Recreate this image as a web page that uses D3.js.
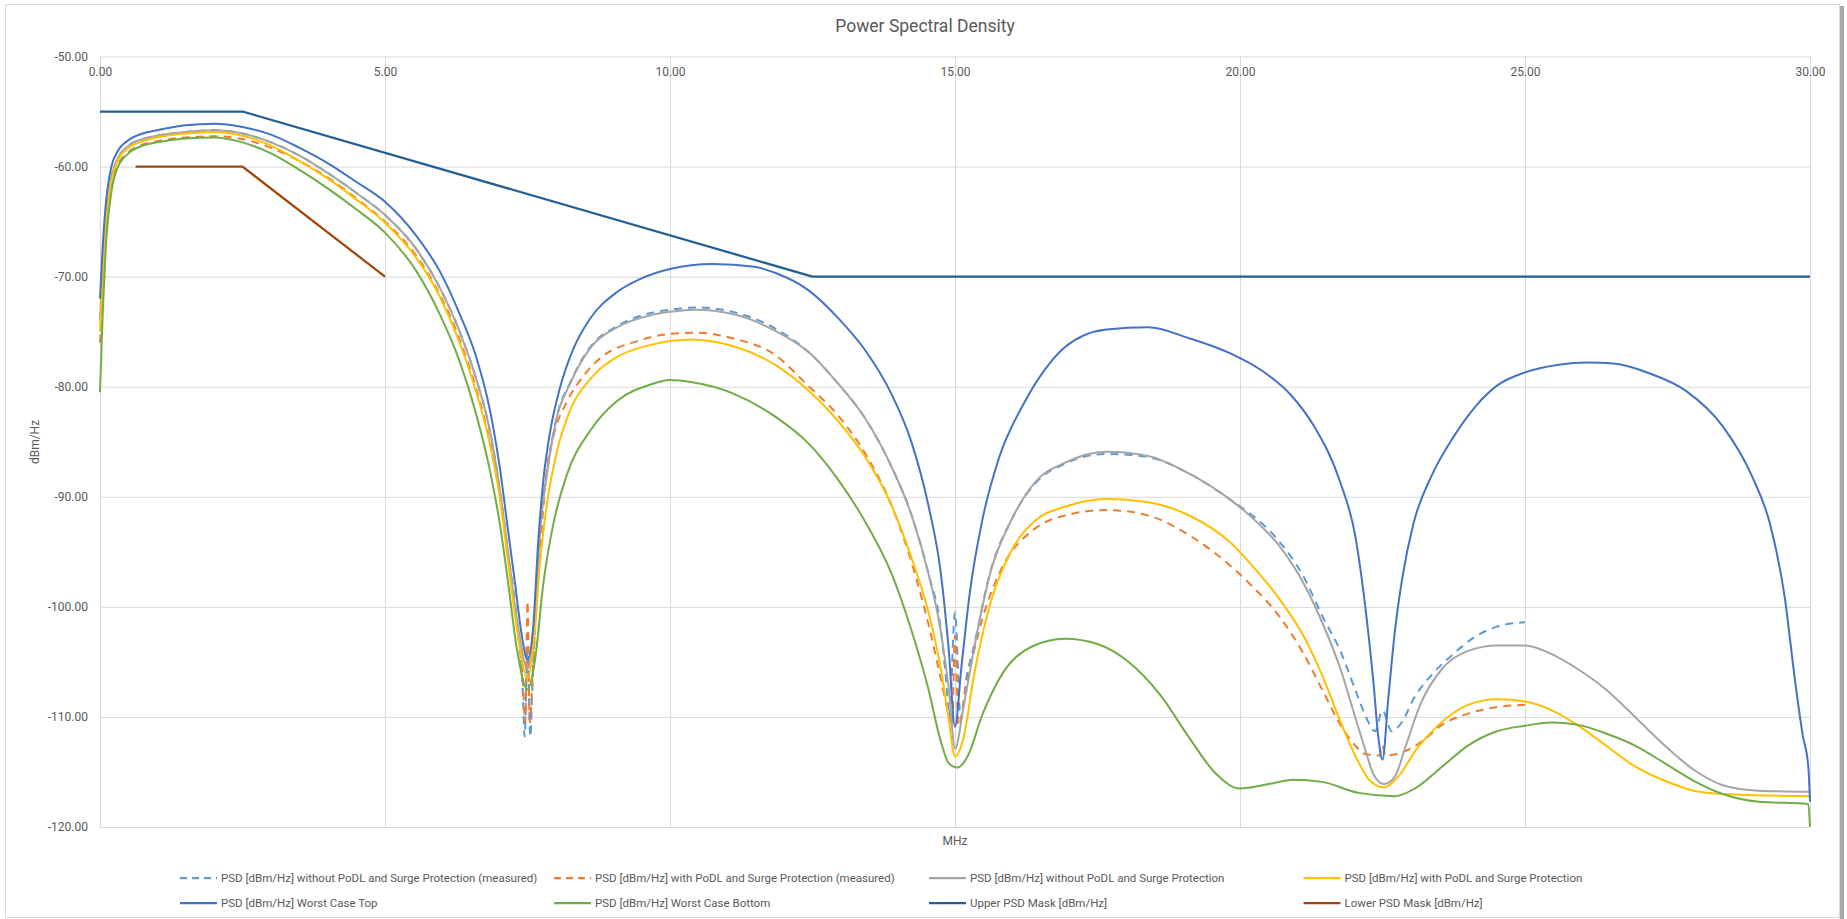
<!DOCTYPE html>
<html>
<head>
<meta charset="utf-8">
<script src="https://cdn.jsdelivr.net/npm/d3@7"></script>
<style>
body { margin: 0; background: #fff; }
svg { display: block; }
text { font-family: Roboto, "Noto Sans", sans-serif; fill: #595959; }
</style>
</head>
<body>
<svg id="chart"></svg>
<script>
// values: [MHz, dBm/Hz]
var xTicks = [0, 5, 10, 15, 20, 25, 30];
var yTicks = [-50, -60, -70, -80, -90, -100, -110, -120];

var psdNoPodlMeasured = [
	[0,-74],[0.05,-69],[0.1,-65],[0.2,-61],[0.3,-59.4],[0.5,-58.1],[0.75,-57.5],[1.0,-57.2],[1.5,-56.85],[2.0,-56.7],
	[2.5,-57.0],[3.0,-57.8],[3.5,-59.0],[4.0,-60.6],[4.5,-62.4],[5.0,-64.4],[5.55,-67.5],[5.96,-71.0],[6.31,-75.0],
	[6.6,-79.3],[6.84,-84.0],[7.01,-89.2],[7.16,-95.1],[7.31,-101.0],[7.42,-108],[7.45,-111.8],[7.5,-104],[7.55,-111.8],
	[7.58,-108],[7.72,-93.0],[7.84,-87.8],[8.01,-82.8],[8.25,-79.6],[8.6,-76.4],[9.07,-74.5],[9.66,-73.3],[10.0,-73.0],
	[10.45,-72.8],[11.1,-73.2],[11.84,-74.7],[12.42,-76.8],[12.93,-79.6],[13.44,-83.0],[13.88,-87.2],[14.24,-91.7],
	[14.53,-96.9],[14.75,-102],[14.85,-107],[14.9,-110],[15.0,-100.5],[15.1,-110.2],[15.2,-106.5],[15.33,-103.6],
	[15.62,-96.8],[15.99,-92.1],[16.42,-88.7],[16.93,-87.0],[17.66,-86.1],[18.39,-86.4],[19.11,-87.9],[19.84,-90.3],
	[20.17,-91.5],[20.68,-94.0],[21.12,-97.3],[21.44,-100.8],[21.76,-104.0],[22.02,-107.5],[22.21,-110.0],[22.37,-111.3],
	[22.5,-109.4],[22.66,-111.3],[22.85,-110.4],[23.04,-108.4],[23.36,-106.2],[23.74,-104.3],[24.13,-102.7],[24.51,-101.8],
	[25.0,-101.4]
];
var psdPodlMeasured = [
	[0,-76],[0.05,-70.5],[0.1,-66],[0.2,-61.7],[0.3,-60.0],[0.5,-58.7],[0.75,-58.0],[1.0,-57.7],[1.5,-57.35],[2.0,-57.25],
	[2.5,-57.5],[3.0,-58.3],[3.5,-59.5],[4.0,-61.0],[4.5,-62.9],[5.0,-65.0],[5.55,-68.1],[5.96,-71.6],[6.31,-75.7],
	[6.6,-80.2],[6.84,-85.0],[7.01,-89.7],[7.16,-95.6],[7.31,-101.5],[7.42,-107],[7.46,-110.5],[7.5,-99.5],[7.54,-110.5],
	[7.6,-105],[7.72,-95.0],[7.84,-87.5],[7.96,-84.4],[8.2,-81.3],[8.5,-78.9],[8.8,-77.3],[9.4,-75.9],[10.0,-75.2],
	[10.5,-75.1],[11.1,-75.6],[11.84,-77.1],[12.42,-79.9],[12.93,-82.5],[13.44,-86.2],[13.88,-90.7],[14.24,-96.0],
	[14.53,-101.5],[14.75,-106.5],[14.89,-109.8],[14.95,-110.8],[15.0,-102.6],[15.06,-110.8],[15.19,-107.4],[15.48,-101.1],
	[15.84,-96.3],[16.35,-93.1],[16.93,-91.7],[17.66,-91.2],[18.39,-91.7],[19.11,-93.5],[19.84,-96.3],[20.17,-97.9],
	[20.68,-100.8],[21.12,-104.3],[21.44,-107.5],[21.76,-110.7],[22.02,-112.6],[22.21,-113.4],[22.45,-113.5],[22.5,-112.6],
	[22.55,-113.5],[22.85,-113.2],[23.17,-112.3],[23.55,-110.7],[24.0,-109.7],[24.51,-109.1],[25.0,-108.9]
];
var psdNoPodl = [
	[0,-74],[0.05,-69],[0.1,-65],[0.2,-61],[0.3,-59.4],[0.5,-58.1],[0.75,-57.5],[1.0,-57.2],[1.5,-56.85],[2.0,-56.7],
	[2.5,-57.0],[3.0,-57.8],[3.5,-59.0],[4.0,-60.6],[4.5,-62.4],[5.0,-64.4],[5.55,-67.5],[5.96,-71.0],[6.31,-75.0],
	[6.6,-79.3],[6.84,-84.0],[7.01,-89.2],[7.16,-95.1],[7.31,-101.0],[7.5,-105.6],[7.6,-102.6],[7.72,-93.1],[7.84,-88.0],
	[8.01,-82.9],[8.25,-79.7],[8.6,-76.5],[9.07,-74.6],[9.66,-73.5],[10.0,-73.2],[10.45,-73.0],[11.1,-73.4],[11.84,-74.9],
	[12.42,-76.8],[12.93,-79.6],[13.44,-83.0],[13.88,-87.2],[14.24,-91.7],[14.53,-96.9],[14.75,-102.2],[14.89,-107.4],
	[15.0,-112.9],[15.15,-109.1],[15.33,-103.9],[15.62,-96.9],[15.99,-92.1],[16.42,-88.6],[16.93,-86.9],[17.66,-85.9],
	[18.39,-86.3],[19.11,-87.9],[19.84,-90.3],[20.17,-91.7],[20.68,-94.4],[21.12,-97.9],[21.44,-101.4],[21.76,-105.6],
	[22.02,-110.0],[22.21,-113.2],[22.34,-115.2],[22.53,-116.1],[22.72,-115.4],[22.91,-112.6],[23.17,-108.8],[23.55,-105.6],
	[24.0,-104.0],[24.51,-103.5],[25.0,-103.5],[25.47,-104.3],[25.91,-105.6],[26.42,-107.5],[26.93,-110.0],[27.45,-112.6],
	[27.96,-114.8],[28.47,-116.2],[29.1,-116.7],[30.0,-116.8]
];
var psdPodl = [
	[0,-75],[0.05,-70],[0.1,-65.5],[0.2,-61.3],[0.3,-59.6],[0.5,-58.3],[0.75,-57.7],[1.0,-57.35],[1.5,-57.0],[2.0,-56.85],
	[2.5,-57.2],[3.0,-58.1],[3.5,-59.5],[4.0,-61.1],[4.5,-63.0],[5.0,-65.1],[5.55,-68.3],[5.96,-71.8],[6.31,-76.0],
	[6.6,-80.5],[6.84,-85.2],[7.01,-89.9],[7.16,-95.9],[7.31,-101.8],[7.5,-106.5],[7.6,-103.7],[7.72,-95.9],[7.84,-90.7],
	[8.01,-86.0],[8.25,-82.1],[8.6,-79.3],[9.07,-77.3],[9.66,-76.2],[10.0,-75.85],[10.4,-75.7],[11.1,-76.3],[11.84,-78.0],
	[12.42,-80.3],[12.93,-83.0],[13.44,-86.5],[13.88,-90.7],[14.24,-95.6],[14.53,-100.4],[14.75,-105.6],[14.89,-110.2],
	[15.0,-113.6],[15.15,-111.9],[15.33,-106.3],[15.62,-99.7],[15.99,-94.9],[16.42,-92.1],[16.93,-90.9],[17.66,-90.2],
	[18.39,-90.5],[19.11,-91.7],[19.84,-94.2],[20.17,-96.0],[20.68,-99.2],[21.12,-102.7],[21.44,-106.2],[21.76,-110.4],
	[22.02,-113.5],[22.28,-115.8],[22.53,-116.4],[22.78,-115.4],[23.1,-112.9],[23.49,-110.7],[24.0,-108.9],[24.51,-108.4],
	[25.0,-108.6],[25.47,-109.4],[25.91,-110.7],[26.42,-112.6],[26.93,-114.5],[27.45,-115.8],[27.96,-116.7],[28.47,-117.0],
	[30.0,-117.2]
];
var psdWorstTop = [
	[0,-72],[0.05,-67],[0.1,-63.5],[0.2,-60],[0.3,-58.7],[0.5,-57.6],[0.75,-57.0],[1.0,-56.7],[1.5,-56.25],[2.0,-56.1],
	[2.5,-56.4],[3.0,-57.1],[3.5,-58.3],[4.0,-59.7],[4.5,-61.4],[5.0,-63.2],[5.55,-66.3],[5.96,-69.5],[6.31,-73.4],
	[6.6,-77.3],[6.84,-82.1],[7.01,-87.2],[7.16,-93.1],[7.28,-97.8],[7.4,-102.6],[7.5,-104.8],[7.6,-101.8],[7.69,-93.9],
	[7.78,-88.4],[7.9,-84.0],[8.07,-80.1],[8.31,-76.5],[8.6,-73.8],[9.07,-71.4],[9.48,-70.2],[10.0,-69.3],[10.75,-68.85],
	[11.48,-69.1],[11.84,-69.65],[12.42,-71.2],[12.93,-73.65],[13.44,-76.8],[13.88,-80.6],[14.24,-85.1],[14.53,-90.7],
	[14.75,-96.9],[14.89,-103.9],[15.0,-110.9],[15.11,-105.6],[15.26,-98.7],[15.48,-92.1],[15.77,-86.5],[16.2,-81.6],
	[16.57,-78.5],[16.93,-76.4],[17.66,-74.8],[18.39,-74.6],[19.11,-75.6],[19.84,-77.0],[20.4,-78.6],[20.9,-80.8],
	[21.3,-83.6],[21.76,-88.7],[22.02,-93.5],[22.21,-100.5],[22.34,-106.8],[22.43,-112.0],[22.5,-113.9],[22.6,-108.4],
	[22.72,-102.1],[22.85,-97.3],[23.04,-92.5],[23.36,-88.1],[23.74,-84.6],[24.13,-81.8],[24.51,-79.9],[25.0,-78.7],
	[25.59,-78.0],[26.1,-77.8],[26.55,-77.9],[27.19,-78.8],[27.83,-80.4],[28.47,-83.6],[28.98,-88.1],[29.3,-92.5],
	[29.55,-98.9],[29.74,-106.8],[29.87,-111.6],[29.97,-114.5],[30.0,-117.7]
];
var psdWorstBottom = [
	[0,-80.5],[0.05,-73],[0.1,-67.5],[0.2,-62.3],[0.3,-60.2],[0.5,-58.8],[0.75,-58.1],[1.0,-57.8],[1.5,-57.45],[2.0,-57.35],
	[2.5,-57.8],[3.0,-58.8],[3.5,-60.3],[4.0,-62.0],[4.5,-63.9],[5.0,-66.0],[5.55,-69.5],[5.96,-73.4],[6.31,-77.7],
	[6.6,-82.5],[6.84,-87.6],[7.01,-92.3],[7.16,-97.8],[7.31,-103.7],[7.5,-107.5],[7.63,-104.9],[7.78,-97.8],[7.96,-92.3],
	[8.19,-88.0],[8.6,-84.0],[9.07,-81.3],[9.66,-79.8],[10.0,-79.4],[10.39,-79.6],[11.1,-80.6],[11.84,-82.7],[12.42,-85.1],
	[12.93,-88.3],[13.44,-92.4],[13.88,-96.9],[14.24,-102.2],[14.53,-107.4],[14.75,-112.2],[14.89,-114.2],[15.04,-114.6],
	[15.22,-113.6],[15.48,-109.8],[15.84,-106.0],[16.35,-103.6],[16.93,-102.9],[17.51,-103.4],[18.02,-104.9],[18.6,-108.0],
	[19.11,-111.9],[19.55,-115.0],[20.0,-116.5],[20.5,-116.1],[20.93,-115.7],[21.44,-115.9],[22.08,-116.9],[22.72,-117.2],
	[23.1,-116.4],[23.55,-114.5],[24.0,-112.6],[24.51,-111.3],[25.0,-110.8],[25.47,-110.5],[25.91,-110.7],[26.42,-111.5],
	[26.93,-112.6],[27.45,-114.2],[27.96,-115.8],[28.47,-117.0],[29.1,-117.7],[29.97,-117.9],[30.0,-120]
];
var upperMask = [[0,-55],[2.5,-55],[12.5,-70],[30,-70]];
var lowerMask = [[0.625,-60],[2.5,-60],[5,-70]];

var series = [
	{ name: 'PSD [dBm/Hz] without PoDL and Surge Protection (measured)', data: psdNoPodlMeasured, color: '#5B9BD5', dash: '8,6' },
	{ name: 'PSD [dBm/Hz] with PoDL and Surge Protection (measured)', data: psdPodlMeasured, color: '#ED7D31', dash: '8,6' },
	{ name: 'PSD [dBm/Hz] without PoDL and Surge Protection', data: psdNoPodl, color: '#A5A5A5' },
	{ name: 'PSD [dBm/Hz] with PoDL and Surge Protection', data: psdPodl, color: '#FFC000' },
	{ name: 'PSD [dBm/Hz] Worst Case Top', data: psdWorstTop, color: '#4472C4' },
	{ name: 'PSD [dBm/Hz] Worst Case Bottom', data: psdWorstBottom, color: '#70AD47' },
	{ name: 'Upper PSD Mask [dBm/Hz]', data: upperMask, color: '#255E91', mask: true },
	{ name: 'Lower PSD Mask [dBm/Hz]', data: lowerMask, color: '#9E480E', mask: true }
];

var W = 1847, H = 919;
var plot = { left: 100, right: 1810, top: 56.5, bottom: 827 };

var svg = d3.select('#chart').attr('width', W).attr('height', H);

// chart frame with the little shadow on the right
svg.append('rect').attr('x', 1840).attr('y', 6).attr('width', 4).attr('height', 913).attr('fill', '#a8a8a8');
svg.append('rect').attr('x', 5.5).attr('y', 4.5).attr('width', 1834).attr('height', 913)
	.attr('fill', '#fff').attr('stroke', '#d9d9d9');

var x = d3.scaleLinear().domain([0, 30]).range([plot.left, plot.right]);
var y = d3.scaleLinear().domain([-120, -50]).range([plot.bottom, plot.top]);

// gridlines
var grid = svg.append('g').attr('class', 'grid');
grid.append('g')
	.attr('transform', 'translate(0,' + plot.bottom + ')')
	.call(d3.axisBottom(x).tickValues(xTicks).tickSize(-(plot.bottom - plot.top)).tickFormat(''));
grid.append('g')
	.attr('transform', 'translate(' + plot.left + ',0)')
	.call(d3.axisLeft(y).tickValues(yTicks).tickSize(-(plot.right - plot.left)).tickFormat(''));
grid.selectAll('.domain').remove();
grid.selectAll('line').attr('stroke', '#d9d9d9').attr('stroke-width', 1);

// axis labels (x labels sit just under the top edge)
svg.append('g')
	.attr('transform', 'translate(0,' + plot.top + ')')
	.call(d3.axisBottom(x).tickValues(xTicks).tickSize(0).tickPadding(11)
		.tickFormat(function (d) { return d.toFixed(2); }));
svg.append('g')
	.attr('transform', 'translate(' + plot.left + ',0)')
	.call(d3.axisLeft(y).tickValues(yTicks).tickSize(0).tickPadding(12)
		.tickFormat(function (d) { return d.toFixed(2); }));
svg.selectAll('.domain').remove();
svg.selectAll('.tick text').attr('font-size', 12).attr('font-family', null).style('fill', '#595959');

// lines: smooth for measured/computed PSDs, straight for the masks
var smooth = d3.line()
	.x(function (d) { return x(d[0]); })
	.y(function (d) { return y(d[1]); })
	.curve(d3.curveMonotoneX);
var straight = d3.line()
	.x(function (d) { return x(d[0]); })
	.y(function (d) { return y(d[1]); });

svg.append('g').selectAll('path')
	.data(series)
	.join('path')
	.attr('d', function (s) { return s.mask ? straight(s.data) : smooth(s.data); })
	.attr('fill', 'none')
	.attr('stroke', function (s) { return s.color; })
	.attr('stroke-width', function (s) { return s.mask ? 2.25 : 2; })
	.attr('stroke-dasharray', function (s) { return s.dash || null; })
	.attr('stroke-linejoin', 'round');

// titles
svg.append('text').attr('x', 925).attr('y', 32).attr('text-anchor', 'middle')
	.attr('font-size', 17.5).text('Power Spectral Density');
svg.append('text').attr('x', 955).attr('y', 845).attr('text-anchor', 'middle')
	.attr('font-size', 12).text('MHz');
svg.append('text')
	.attr('transform', 'translate(39,442) rotate(-90)')
	.attr('text-anchor', 'middle').attr('font-size', 12).text('dBm/Hz');

// legend, 4 columns x 2 rows
var legendX = [180, 554, 929, 1303.5];
var legendY = [878, 903];
var legend = svg.append('g').selectAll('g')
	.data(series)
	.join('g')
	.attr('transform', function (s, i) {
		return 'translate(' + legendX[i % 4] + ',' + legendY[Math.floor(i / 4)] + ')';
	});
legend.append('line')
	.attr('x1', 0).attr('x2', 37).attr('y1', 0).attr('y2', 0)
	.attr('stroke', function (s) { return s.color; })
	.attr('stroke-width', 2.25)
	.attr('stroke-dasharray', function (s) { return s.dash ? '7,5' : null; });
legend.append('text')
	.attr('x', 41).attr('y', 0).attr('dy', '0.35em')
	.attr('font-size', 11.5)
	.text(function (s) { return s.name; });
</script>
</body>
</html>
